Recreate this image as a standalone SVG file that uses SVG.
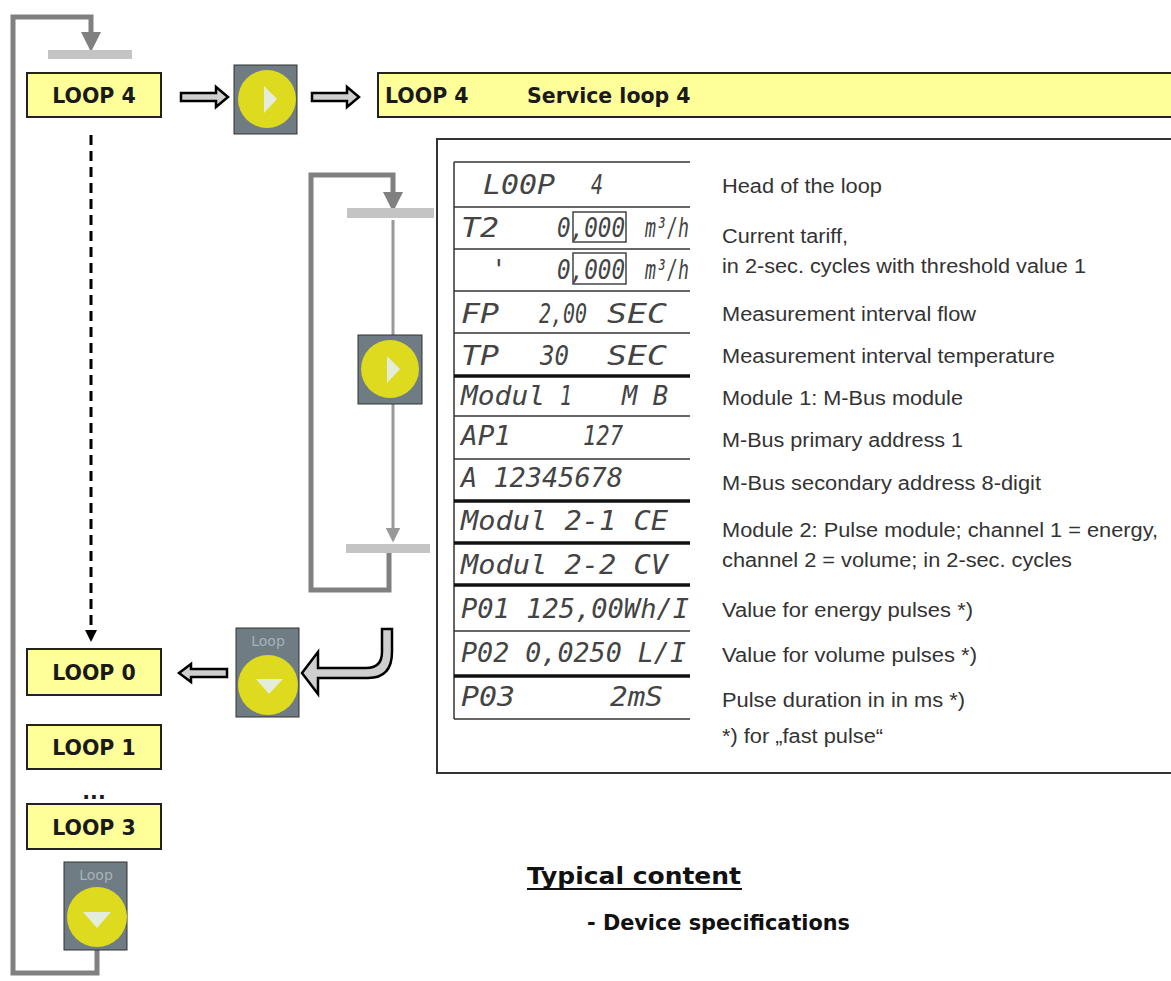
<svg xmlns="http://www.w3.org/2000/svg" width="1171" height="981" viewBox="0 0 1171 981">
<style>
.box{fill:#ffff99;stroke:#222;stroke-width:2}
.bt{font-family:"DejaVu Sans",Verdana,sans-serif;font-weight:bold;font-size:20.5px;fill:#1a1a1a}
.gl{fill:none;stroke:#808080;stroke-width:5}
.gl2{fill:none;stroke:#999;stroke-width:3}
.bar{fill:#c4c4c4}
.btn{fill:#6f7c84;stroke:#333;stroke-width:1}
.yc{fill:#dedb1e}
.tri{fill:#e4ecdc}
.ha{fill:#cfcfcf;stroke:#000;stroke-width:2.5;stroke-linejoin:miter}
.lcd{font-family:"DejaVu Sans Mono",monospace;font-style:oblique;font-size:26px;fill:#444}
.rt{font-family:"Liberation Sans",Arial,sans-serif;font-size:20px;fill:#333}
.rl{stroke:#333;stroke-width:1.5}
.rk{stroke:#111;stroke-width:3.5}
.lp{font-family:"DejaVu Sans",sans-serif;font-size:14px;fill:#a9b2b6}
</style>
<defs>
<marker id="ag" markerWidth="4" markerHeight="4" refX="2" refY="2" orient="auto" markerUnits="strokeWidth">
<path d="M0,0 L4,2 L0,4 z" fill="#808080"/>
</marker>
<marker id="ag2" markerWidth="5" markerHeight="5" refX="2.5" refY="2.5" orient="auto" markerUnits="strokeWidth">
<path d="M0,0 L5,2.5 L0,5 z" fill="#999"/>
</marker>
<marker id="ab" markerWidth="4" markerHeight="4" refX="2" refY="2" orient="auto" markerUnits="strokeWidth">
<path d="M0,0 L4,2 L0,4 z" fill="#000"/>
</marker>
</defs>

<g id="connectors">
<path class="gl" d="M97,950 V973 H13 V17 H91 V42" marker-end="url(#ag)"/>
<path class="gl" d="M389,553 V590 H311 V175 H393 V202" marker-end="url(#ag)"/>
<path class="gl2" d="M393,220 V335"/>
<path class="gl2" d="M393,404 V535" marker-end="url(#ag2)"/>
<path d="M91,135 V636" stroke="#000" stroke-width="3" stroke-dasharray="10,6" fill="none" marker-end="url(#ab)"/>
<path class="ha" d="M181,93 H216 V87 L228,97 L216,107 V101 H181 z"/>
<path class="ha" d="M312,93 H347 V87 L359,97 L347,107 V101 H312 z"/>
<path class="ha" d="M227,669 H191 V664 L179,673 L191,682 V677 H227 z"/>
<path class="ha" d="M392,629 V652 Q392,678 368,678 H318 V694 L302,673 L318,652 V668 H366 Q382,668 382,652 V629 z"/>
</g>

<g id="bars">
<rect class="bar" x="48" y="50" width="84" height="9"/>
<rect class="bar" x="347" y="208" width="87" height="10"/>
<rect class="bar" x="346" y="544" width="84" height="9"/>
</g>

<g id="loop4"><rect class="box" x="27" y="73" width="134" height="44"/><text class="bt" x="94" y="103" text-anchor="middle">LOOP 4</text></g>
<g id="loop0"><rect class="box" x="27" y="649" width="134" height="46"/><text class="bt" x="94" y="680" text-anchor="middle">LOOP 0</text></g>
<g id="loop1"><rect class="box" x="27" y="725" width="134" height="44"/><text class="bt" x="94" y="755" text-anchor="middle">LOOP 1</text></g>
<g id="dots"><text class="bt" x="94" y="799" text-anchor="middle">...</text></g>
<g id="loop3"><rect class="box" x="27" y="804" width="134" height="45"/><text class="bt" x="94" y="835" text-anchor="middle">LOOP 3</text></g>

<g id="service"><rect class="box" x="378" y="73" width="800" height="44"/>
<text class="bt" x="385" y="103">LOOP 4</text>
<text class="bt" x="527" y="103">Service loop 4</text></g>

<g id="btn-play1"><rect class="btn" x="234" y="65" width="63" height="69"/><circle class="yc" cx="267" cy="99" r="29"/><path class="tri" d="M264,86 L277,99 L264,113 z"/></g>
<g id="btn-play2"><rect class="btn" x="358" y="335" width="64" height="69"/><circle class="yc" cx="390" cy="369" r="29"/><path class="tri" d="M387,356 L400,369 L387,383 z"/></g>
<g id="btn-loop1"><rect class="btn" x="236" y="628" width="63" height="89" stroke="none"/><text class="lp" x="268" y="646" text-anchor="middle">Loop</text><circle class="yc" cx="268" cy="685" r="30"/><path class="tri" d="M256,679 L283,679 L269,694 z"/></g>
<g id="btn-loop2"><rect class="btn" x="64" y="862" width="63" height="88" stroke="none"/><text class="lp" x="96" y="880" text-anchor="middle">Loop</text><circle class="yc" cx="97" cy="917" r="30"/><path class="tri" d="M83,912 L111,912 L97,928 z"/></g>

<g id="content">
<rect x="437" y="139" width="750" height="634" fill="#fff" stroke="#333" stroke-width="2"/>
<g id="lcd">
<line class="rl" x1="454" y1="162" x2="454" y2="719"/>
<line class="rl" x1="454" y1="162" x2="690" y2="162"/>
<line class="rl" x1="454" y1="207" x2="690" y2="207"/>
<line class="rl" x1="454" y1="249" x2="690" y2="249"/>
<line class="rl" x1="454" y1="291" x2="690" y2="291"/>
<line class="rl" x1="454" y1="333" x2="690" y2="333"/>
<line class="rk" x1="454" y1="376" x2="690" y2="376"/>
<line class="rl" x1="454" y1="416" x2="690" y2="416"/>
<line class="rl" x1="454" y1="459" x2="690" y2="459"/>
<line class="rk" x1="454" y1="501" x2="690" y2="501"/>
<line class="rk" x1="454" y1="543" x2="690" y2="543"/>
<line class="rk" x1="454" y1="585" x2="690" y2="585"/>
<line class="rl" x1="454" y1="631" x2="690" y2="631"/>
<line class="rk" x1="454" y1="676" x2="690" y2="676"/>
<line class="rl" x1="454" y1="719" x2="690" y2="719"/>
<text class="lcd" x="483" y="194" textLength="72" lengthAdjust="spacingAndGlyphs">L00P</text>
<text class="lcd" x="591" y="194" textLength="12" lengthAdjust="spacingAndGlyphs">4</text>
<text class="lcd" x="461" y="237" textLength="38" lengthAdjust="spacingAndGlyphs">T2</text>
<text class="lcd" x="557" y="237" textLength="68" lengthAdjust="spacingAndGlyphs">0,000</text>
<text class="lcd" x="645" y="237" font-size="21" textLength="44" lengthAdjust="spacingAndGlyphs">m³/h</text>
<rect x="573" y="212" width="53" height="30" fill="none" stroke="#444" stroke-width="1.5"/>
<text class="lcd" x="491" y="279">'</text>
<text class="lcd" x="557" y="279" textLength="68" lengthAdjust="spacingAndGlyphs">0,000</text>
<text class="lcd" x="645" y="279" font-size="21" textLength="44" lengthAdjust="spacingAndGlyphs">m³/h</text>
<rect x="573" y="253" width="53" height="31" fill="none" stroke="#444" stroke-width="1.5"/>
<text class="lcd" x="461" y="323" textLength="38" lengthAdjust="spacingAndGlyphs">FP</text>
<text class="lcd" x="539" y="323" textLength="48" lengthAdjust="spacingAndGlyphs">2,00</text>
<text class="lcd" x="607" y="323" textLength="60" lengthAdjust="spacingAndGlyphs">SEC</text>
<text class="lcd" x="461" y="365" textLength="38" lengthAdjust="spacingAndGlyphs">TP</text>
<text class="lcd" x="540" y="365" textLength="29" lengthAdjust="spacingAndGlyphs">30</text>
<text class="lcd" x="607" y="365" textLength="60" lengthAdjust="spacingAndGlyphs">SEC</text>
<text class="lcd" x="461" y="405" textLength="84" lengthAdjust="spacingAndGlyphs">Modul</text>
<text class="lcd" x="560" y="405" textLength="12" lengthAdjust="spacingAndGlyphs">1</text>
<text class="lcd" x="622" y="405" textLength="46" lengthAdjust="spacingAndGlyphs">M B</text>
<text class="lcd" x="461" y="445" textLength="50" lengthAdjust="spacingAndGlyphs">AP1</text>
<text class="lcd" x="583" y="445" textLength="40" lengthAdjust="spacingAndGlyphs">127</text>
<text class="lcd" x="461" y="487" textLength="162" lengthAdjust="spacingAndGlyphs">A 12345678</text>
<text class="lcd" x="461" y="530" textLength="207" lengthAdjust="spacingAndGlyphs">Modul 2-1 CE</text>
<text class="lcd" x="461" y="574" textLength="207" lengthAdjust="spacingAndGlyphs">Modul 2-2 CV</text>
<text class="lcd" x="461" y="618" textLength="228" lengthAdjust="spacingAndGlyphs">P01 125,00Wh/I</text>
<text class="lcd" x="461" y="662" textLength="225" lengthAdjust="spacingAndGlyphs">P02 0,0250  L/I</text>
<text class="lcd" x="461" y="706" textLength="54" lengthAdjust="spacingAndGlyphs">P03</text>
<text class="lcd" x="610" y="706" textLength="53" lengthAdjust="spacingAndGlyphs">2mS</text>
</g>
<g id="descriptions">
<text class="rt" x="722" y="193" textLength="160" lengthAdjust="spacingAndGlyphs">Head of the loop</text>
<text class="rt" x="722" y="243" textLength="126" lengthAdjust="spacingAndGlyphs">Current tariff,</text>
<text class="rt" x="722" y="273" textLength="364" lengthAdjust="spacingAndGlyphs">in 2-sec. cycles with threshold value 1</text>
<text class="rt" x="722" y="321" textLength="254" lengthAdjust="spacingAndGlyphs">Measurement interval flow</text>
<text class="rt" x="722" y="363" textLength="333" lengthAdjust="spacingAndGlyphs">Measurement interval temperature</text>
<text class="rt" x="722" y="405" textLength="241" lengthAdjust="spacingAndGlyphs">Module 1: M-Bus module</text>
<text class="rt" x="722" y="447" textLength="241" lengthAdjust="spacingAndGlyphs">M-Bus primary address 1</text>
<text class="rt" x="722" y="490" textLength="319" lengthAdjust="spacingAndGlyphs">M-Bus secondary address 8-digit</text>
<text class="rt" x="722" y="537" textLength="436" lengthAdjust="spacingAndGlyphs">Module 2: Pulse module; channel 1 = energy,</text>
<text class="rt" x="722" y="567" textLength="350" lengthAdjust="spacingAndGlyphs">channel 2 = volume; in 2-sec. cycles</text>
<text class="rt" x="722" y="617" textLength="251" lengthAdjust="spacingAndGlyphs">Value for energy pulses *)</text>
<text class="rt" x="722" y="662" textLength="255" lengthAdjust="spacingAndGlyphs">Value for volume pulses *)</text>
<text class="rt" x="722" y="707" textLength="243" lengthAdjust="spacingAndGlyphs">Pulse duration in in ms *)</text>
<text class="rt" x="722" y="743" textLength="161" lengthAdjust="spacingAndGlyphs">*) for „fast pulse“</text>
</g>
</g>

<g id="typical">
<text x="527" y="884" font-family="DejaVu Sans,sans-serif" font-weight="bold" font-size="23" fill="#111" textLength="214" lengthAdjust="spacingAndGlyphs">Typical content</text>
<line x1="527" y1="889" x2="742" y2="889" stroke="#111" stroke-width="2"/>
<text x="587" y="930" font-family="DejaVu Sans,sans-serif" font-weight="bold" font-size="21" fill="#111" textLength="263" lengthAdjust="spacingAndGlyphs">- Device specifications</text>
</g>
</svg>
